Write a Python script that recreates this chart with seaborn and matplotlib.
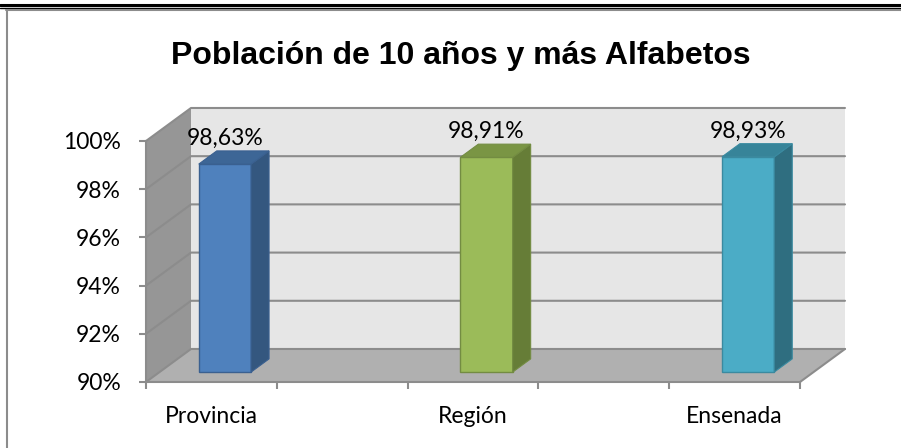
import pandas as pd
import matplotlib
matplotlib.use("Agg")
import matplotlib.pyplot as plt
import seaborn as sns
from matplotlib.patches import Polygon, Rectangle
from matplotlib.lines import Line2D

## Data ##
categories = ["Provincia", "Región", "Ensenada"]
values = [98.63, 98.91, 98.93]
value_labels = ["98,63%", "98,91%", "98,93%"]
y_ticks = [90, 92, 94, 96, 98, 100]
y_tick_labels = ["90%", "92%", "94%", "96%", "98%", "100%"]

front_colors = ["#4F81BD", "#9BBB59", "#4BACC6"]
side_colors = ["#34577F", "#667D37", "#2F6E80"]
top_colors = ["#3D6696", "#7A9544", "#378499"]
edge_colors = ["#3A6090", "#738C42", "#3A8AA0"]

## Layout of the fake 3D box ##
y_min, y_max = 90, 100
x_min, x_max = -0.25, 2.25
dx, dy = 0.172, 1.37      # offset of the back wall from the front plane
f0, f1 = 0.3, 0.7         # bar depth, as fraction of the floor depth
bar_w = 0.2
grid_col = "#8C8C8C"

sns.set_theme(style="white")
plt.rcParams["font.family"] = ["Lato", "DejaVu Sans"]

fig = plt.figure(figsize=(9.01, 4.48), dpi=100)
ax = fig.add_axes([146 / 901, 66 / 448, 654 / 901, 241 / 448])
ax.set_facecolor("none")

df = pd.DataFrame({"cat": categories, "val": values})
sns.barplot(data=df, x="cat", y="val", hue="cat", palette=front_colors,
            saturation=1, width=bar_w, legend=False, ax=ax, zorder=5)
ax.set_xlim(x_min, x_max)
ax.set_ylim(y_min, y_max)
bars = sorted([p for p in ax.patches if isinstance(p, Rectangle)],
              key=lambda p: p.get_x())

# walls and floor
def poly(pts, color, z):
    ax.add_patch(Polygon(pts, closed=True, facecolor=color, edgecolor="none",
                         zorder=z, clip_on=False))

poly([(x_min + dx, y_min + dy), (x_max + dx, y_min + dy),
      (x_max + dx, y_max + dy), (x_min + dx, y_max + dy)], "#E6E6E6", 0.5)
poly([(x_min, y_min), (x_min + dx, y_min + dy),
      (x_min + dx, y_max + dy), (x_min, y_max)], "#969696", 0.5)
poly([(x_min, y_min), (x_max, y_min),
      (x_max + dx, y_min + dy), (x_min + dx, y_min + dy)], "#B0B0B0", 0.5)

for t in y_ticks:
    ax.plot([x_min, x_min + dx, x_max + dx], [t, t + dy, t + dy],
            color=grid_col, lw=1.5, zorder=0.8, clip_on=False)
ax.plot([x_max, x_max + dx], [y_min, y_min + dy], color=grid_col, lw=1.5,
        zorder=0.8, clip_on=False)

# bars: move the seaborn faces into the box and add side / top faces
bd = f1 - f0
for i, b in enumerate(bars):
    xl = b.get_x() + f0 * dx
    xr = xl + b.get_width()
    yb = y_min + f0 * dy
    yt = values[i] + f0 * dy
    b.set_x(xl)
    b.set_y(yb)
    b.set_height(values[i] - y_min)
    b.set_edgecolor(edge_colors[i])
    b.set_linewidth(1)
    ax.add_patch(Polygon([(xr, yb), (xr + bd * dx, yb + bd * dy),
                          (xr + bd * dx, yt + bd * dy), (xr, yt)],
                         facecolor=side_colors[i], edgecolor=edge_colors[i],
                         lw=0.8, zorder=5, clip_on=False))
    ax.add_patch(Polygon([(xl, yt), (xr, yt), (xr + bd * dx, yt + bd * dy),
                          (xl + bd * dx, yt + bd * dy)],
                         facecolor=top_colors[i], edgecolor=edge_colors[i],
                         lw=0.8, zorder=5, clip_on=False))
    ax.annotate(value_labels[i], ((xl + xr) / 2, values[i] + f1 * dy),
                xytext=(0, 4.5), textcoords="offset points", ha="center",
                va="baseline", fontsize=16.5, color="black", zorder=6,
                annotation_clip=False)

# axes
ax.set_xlabel("")
ax.set_ylabel("")
ax.set_yticks(y_ticks)
ax.set_yticklabels(y_tick_labels)
ax.set_xticks([0, 1, 2])
ax.set_xticklabels(categories)
ax.set_xticks([x_min + 0.5 * k for k in range(6)], minor=True)
for s in ["top", "right"]:
    ax.spines[s].set_visible(False)
for s in ["left", "bottom"]:
    ax.spines[s].set_color(grid_col)
    ax.spines[s].set_linewidth(1.5)
ax.tick_params(axis="y", which="major", left=True, length=5, width=1.5,
               color=grid_col, pad=13, labelsize=16.5, labelcolor="black")
ax.tick_params(axis="x", which="major", bottom=False, length=0, pad=17,
               labelsize=16.5, labelcolor="black")
ax.tick_params(axis="x", which="minor", bottom=True, length=5, width=1.5,
               color=grid_col)

# title
fig.text(0.512, 0.876, "Población de 10 años y más Alfabetos",
         ha="center", va="center", fontsize=23, fontweight="bold",
         color="black", family="Liberation Sans")

# frame lines
fig.add_artist(Line2D([0, 1], [1 - 5 / 448] * 2, color="black", lw=2.2,
                      transform=fig.transFigure))
fig.add_artist(Line2D([0, 1], [1 - 8.5 / 448] * 2, color="black", lw=1.0,
                      transform=fig.transFigure))
fig.add_artist(Line2D([6 / 901, 1], [1 - 10.5 / 448] * 2, color=grid_col,
                      lw=1.5, transform=fig.transFigure))
fig.add_artist(Line2D([7 / 901] * 2, [0, 1 - 10.5 / 448], color=grid_col,
                      lw=1.5, transform=fig.transFigure))

plt.savefig("out.png", dpi=100)
